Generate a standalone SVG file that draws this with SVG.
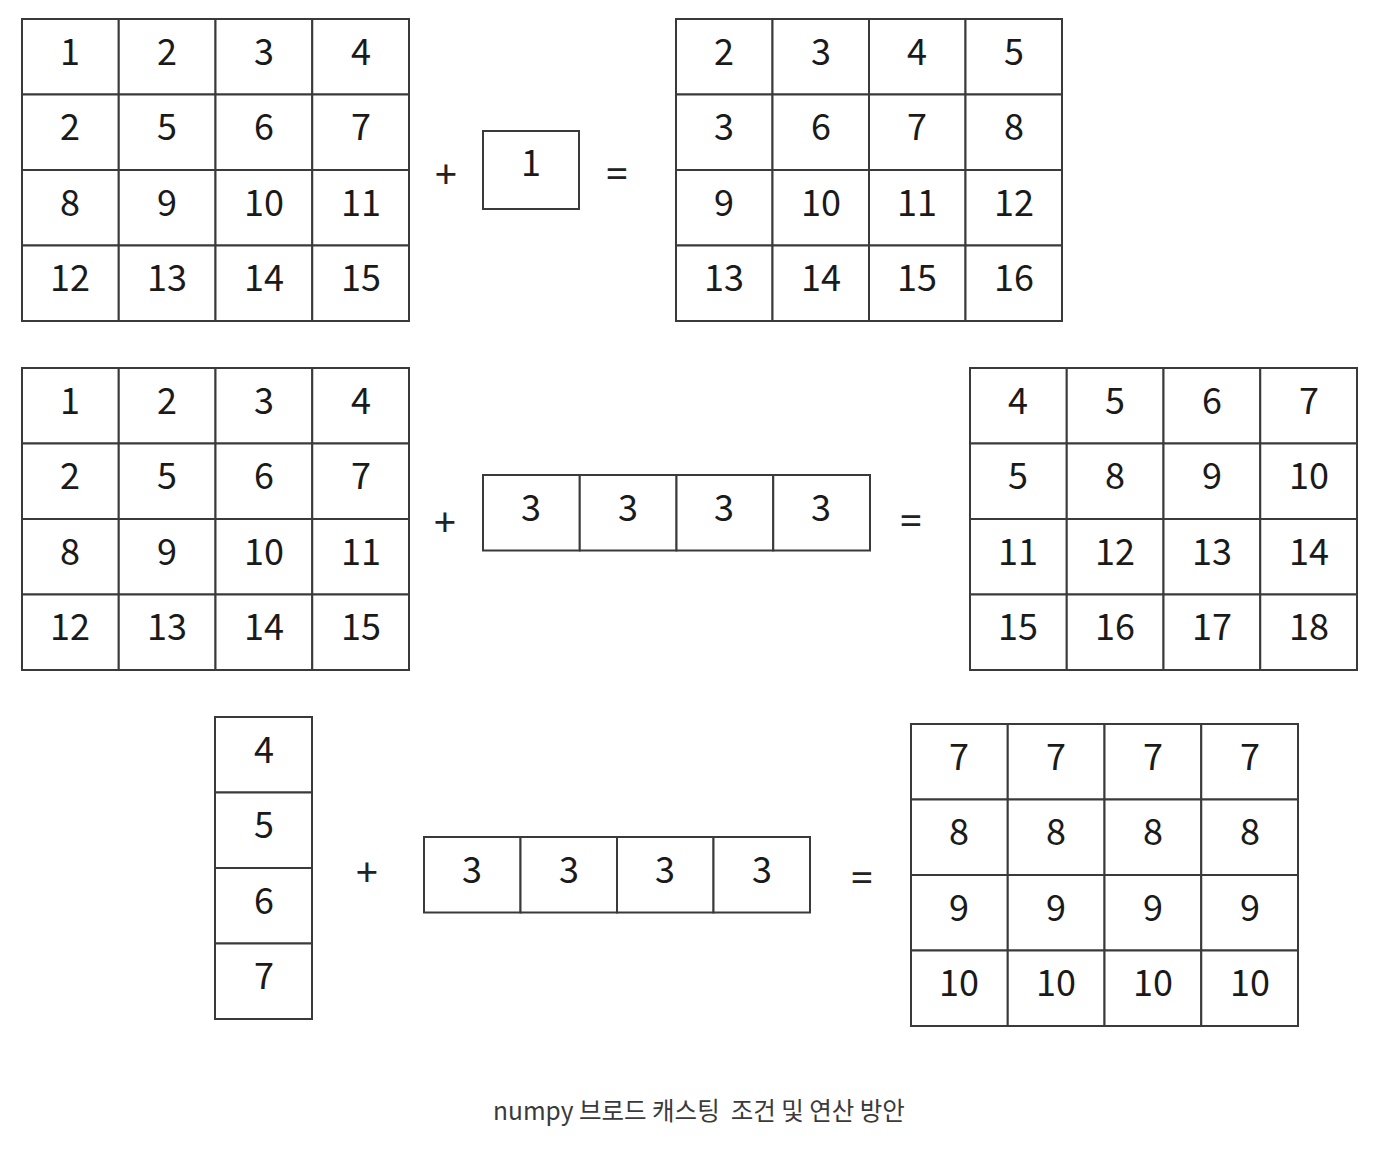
<svg xmlns="http://www.w3.org/2000/svg" width="1396" height="1150" viewBox="0 0 1396 1150">
<style>
.c{fill:#fff;stroke:#3a3a3a;stroke-width:2}
.t{font-family:"Noto Sans CJK KR","Noto Sans",sans-serif;font-size:36px;fill:#1a1a1a;text-anchor:middle}
.op{font-family:"Noto Sans","Noto Sans CJK KR",sans-serif;font-size:40px;fill:#222;text-anchor:middle}
.cap{font-family:"Noto Sans CJK KR",sans-serif;font-size:24.5px;fill:#3a3a3a;text-anchor:middle}
</style>
<rect width="1396" height="1150" fill="#fff"/>

<g id="grid-a">
<rect class="c" x="22" y="19" width="96.75" height="75.5"/><rect class="c" x="118.75" y="19" width="96.75" height="75.5"/><rect class="c" x="215.5" y="19" width="96.75" height="75.5"/><rect class="c" x="312.25" y="19" width="96.75" height="75.5"/>
<rect class="c" x="22" y="94.5" width="96.75" height="75.5"/><rect class="c" x="118.75" y="94.5" width="96.75" height="75.5"/><rect class="c" x="215.5" y="94.5" width="96.75" height="75.5"/><rect class="c" x="312.25" y="94.5" width="96.75" height="75.5"/>
<rect class="c" x="22" y="170" width="96.75" height="75.5"/><rect class="c" x="118.75" y="170" width="96.75" height="75.5"/><rect class="c" x="215.5" y="170" width="96.75" height="75.5"/><rect class="c" x="312.25" y="170" width="96.75" height="75.5"/>
<rect class="c" x="22" y="245.5" width="96.75" height="75.5"/><rect class="c" x="118.75" y="245.5" width="96.75" height="75.5"/><rect class="c" x="215.5" y="245.5" width="96.75" height="75.5"/><rect class="c" x="312.25" y="245.5" width="96.75" height="75.5"/>
<text class="t" x="70" y="65">1</text><text class="t" x="167" y="65">2</text><text class="t" x="264" y="65">3</text><text class="t" x="361" y="65">4</text>
<text class="t" x="70" y="140">2</text><text class="t" x="167" y="140">5</text><text class="t" x="264" y="140">6</text><text class="t" x="361" y="140">7</text>
<text class="t" x="70" y="216">8</text><text class="t" x="167" y="216">9</text><text class="t" x="264" y="216">10</text><text class="t" x="361" y="216">11</text>
<text class="t" x="70" y="291">12</text><text class="t" x="167" y="291">13</text><text class="t" x="264" y="291">14</text><text class="t" x="361" y="291">15</text>
</g>

<g id="op-plus-1"><text class="op" x="446" y="188">+</text></g>
<g id="scalar">
<rect class="c" x="483" y="131" width="96" height="78"/>
<text class="t" x="531" y="176">1</text>
</g>
<g id="op-eq-1"><text class="op" x="617" y="188">=</text></g>

<g id="grid-b">
<rect class="c" x="676" y="19" width="96.5" height="75.5"/><rect class="c" x="772.5" y="19" width="96.5" height="75.5"/><rect class="c" x="869" y="19" width="96.5" height="75.5"/><rect class="c" x="965.5" y="19" width="96.5" height="75.5"/>
<rect class="c" x="676" y="94.5" width="96.5" height="75.5"/><rect class="c" x="772.5" y="94.5" width="96.5" height="75.5"/><rect class="c" x="869" y="94.5" width="96.5" height="75.5"/><rect class="c" x="965.5" y="94.5" width="96.5" height="75.5"/>
<rect class="c" x="676" y="170" width="96.5" height="75.5"/><rect class="c" x="772.5" y="170" width="96.5" height="75.5"/><rect class="c" x="869" y="170" width="96.5" height="75.5"/><rect class="c" x="965.5" y="170" width="96.5" height="75.5"/>
<rect class="c" x="676" y="245.5" width="96.5" height="75.5"/><rect class="c" x="772.5" y="245.5" width="96.5" height="75.5"/><rect class="c" x="869" y="245.5" width="96.5" height="75.5"/><rect class="c" x="965.5" y="245.5" width="96.5" height="75.5"/>
<text class="t" x="724" y="65">2</text><text class="t" x="821" y="65">3</text><text class="t" x="917" y="65">4</text><text class="t" x="1014" y="65">5</text>
<text class="t" x="724" y="140">3</text><text class="t" x="821" y="140">6</text><text class="t" x="917" y="140">7</text><text class="t" x="1014" y="140">8</text>
<text class="t" x="724" y="216">9</text><text class="t" x="821" y="216">10</text><text class="t" x="917" y="216">11</text><text class="t" x="1014" y="216">12</text>
<text class="t" x="724" y="291">13</text><text class="t" x="821" y="291">14</text><text class="t" x="917" y="291">15</text><text class="t" x="1014" y="291">16</text>
</g>

<g id="grid-c">
<rect class="c" x="22" y="368" width="96.75" height="75.5"/><rect class="c" x="118.75" y="368" width="96.75" height="75.5"/><rect class="c" x="215.5" y="368" width="96.75" height="75.5"/><rect class="c" x="312.25" y="368" width="96.75" height="75.5"/>
<rect class="c" x="22" y="443.5" width="96.75" height="75.5"/><rect class="c" x="118.75" y="443.5" width="96.75" height="75.5"/><rect class="c" x="215.5" y="443.5" width="96.75" height="75.5"/><rect class="c" x="312.25" y="443.5" width="96.75" height="75.5"/>
<rect class="c" x="22" y="519" width="96.75" height="75.5"/><rect class="c" x="118.75" y="519" width="96.75" height="75.5"/><rect class="c" x="215.5" y="519" width="96.75" height="75.5"/><rect class="c" x="312.25" y="519" width="96.75" height="75.5"/>
<rect class="c" x="22" y="594.5" width="96.75" height="75.5"/><rect class="c" x="118.75" y="594.5" width="96.75" height="75.5"/><rect class="c" x="215.5" y="594.5" width="96.75" height="75.5"/><rect class="c" x="312.25" y="594.5" width="96.75" height="75.5"/>
<text class="t" x="70" y="414">1</text><text class="t" x="167" y="414">2</text><text class="t" x="264" y="414">3</text><text class="t" x="361" y="414">4</text>
<text class="t" x="70" y="489">2</text><text class="t" x="167" y="489">5</text><text class="t" x="264" y="489">6</text><text class="t" x="361" y="489">7</text>
<text class="t" x="70" y="565">8</text><text class="t" x="167" y="565">9</text><text class="t" x="264" y="565">10</text><text class="t" x="361" y="565">11</text>
<text class="t" x="70" y="640">12</text><text class="t" x="167" y="640">13</text><text class="t" x="264" y="640">14</text><text class="t" x="361" y="640">15</text>
</g>

<g id="op-plus-2"><text class="op" x="445" y="536">+</text></g>
<g id="row-vec-1">
<rect class="c" x="483" y="475" width="96.75" height="75.5"/><rect class="c" x="579.75" y="475" width="96.75" height="75.5"/><rect class="c" x="676.5" y="475" width="96.75" height="75.5"/><rect class="c" x="773.25" y="475" width="96.75" height="75.5"/>
<text class="t" x="531" y="521">3</text><text class="t" x="628" y="521">3</text><text class="t" x="724" y="521">3</text><text class="t" x="821" y="521">3</text>
</g>
<g id="op-eq-2"><text class="op" x="911" y="535">=</text></g>

<g id="grid-d">
<rect class="c" x="970" y="368" width="96.75" height="75.5"/><rect class="c" x="1066.75" y="368" width="96.75" height="75.5"/><rect class="c" x="1163.5" y="368" width="96.75" height="75.5"/><rect class="c" x="1260.25" y="368" width="96.75" height="75.5"/>
<rect class="c" x="970" y="443.5" width="96.75" height="75.5"/><rect class="c" x="1066.75" y="443.5" width="96.75" height="75.5"/><rect class="c" x="1163.5" y="443.5" width="96.75" height="75.5"/><rect class="c" x="1260.25" y="443.5" width="96.75" height="75.5"/>
<rect class="c" x="970" y="519" width="96.75" height="75.5"/><rect class="c" x="1066.75" y="519" width="96.75" height="75.5"/><rect class="c" x="1163.5" y="519" width="96.75" height="75.5"/><rect class="c" x="1260.25" y="519" width="96.75" height="75.5"/>
<rect class="c" x="970" y="594.5" width="96.75" height="75.5"/><rect class="c" x="1066.75" y="594.5" width="96.75" height="75.5"/><rect class="c" x="1163.5" y="594.5" width="96.75" height="75.5"/><rect class="c" x="1260.25" y="594.5" width="96.75" height="75.5"/>
<text class="t" x="1018" y="414">4</text><text class="t" x="1115" y="414">5</text><text class="t" x="1212" y="414">6</text><text class="t" x="1309" y="414">7</text>
<text class="t" x="1018" y="489">5</text><text class="t" x="1115" y="489">8</text><text class="t" x="1212" y="489">9</text><text class="t" x="1309" y="489">10</text>
<text class="t" x="1018" y="565">11</text><text class="t" x="1115" y="565">12</text><text class="t" x="1212" y="565">13</text><text class="t" x="1309" y="565">14</text>
<text class="t" x="1018" y="640">15</text><text class="t" x="1115" y="640">16</text><text class="t" x="1212" y="640">17</text><text class="t" x="1309" y="640">18</text>
</g>

<g id="col-vec">
<rect class="c" x="215" y="717" width="97" height="75.5"/><rect class="c" x="215" y="792.5" width="97" height="75.5"/><rect class="c" x="215" y="868" width="97" height="75.5"/><rect class="c" x="215" y="943.5" width="97" height="75.5"/>
<text class="t" x="264" y="763">4</text><text class="t" x="264" y="838">5</text><text class="t" x="264" y="914">6</text><text class="t" x="264" y="989">7</text>
</g>
<g id="op-plus-3"><text class="op" x="367" y="886">+</text></g>
<g id="row-vec-2">
<rect class="c" x="424" y="837" width="96.5" height="75.5"/><rect class="c" x="520.5" y="837" width="96.5" height="75.5"/><rect class="c" x="617" y="837" width="96.5" height="75.5"/><rect class="c" x="713.5" y="837" width="96.5" height="75.5"/>
<text class="t" x="472" y="883">3</text><text class="t" x="569" y="883">3</text><text class="t" x="665" y="883">3</text><text class="t" x="762" y="883">3</text>
</g>
<g id="op-eq-3"><text class="op" x="862" y="892">=</text></g>

<g id="grid-e">
<rect class="c" x="911" y="724" width="96.75" height="75.5"/><rect class="c" x="1007.75" y="724" width="96.75" height="75.5"/><rect class="c" x="1104.5" y="724" width="96.75" height="75.5"/><rect class="c" x="1201.25" y="724" width="96.75" height="75.5"/>
<rect class="c" x="911" y="799.5" width="96.75" height="75.5"/><rect class="c" x="1007.75" y="799.5" width="96.75" height="75.5"/><rect class="c" x="1104.5" y="799.5" width="96.75" height="75.5"/><rect class="c" x="1201.25" y="799.5" width="96.75" height="75.5"/>
<rect class="c" x="911" y="875" width="96.75" height="75.5"/><rect class="c" x="1007.75" y="875" width="96.75" height="75.5"/><rect class="c" x="1104.5" y="875" width="96.75" height="75.5"/><rect class="c" x="1201.25" y="875" width="96.75" height="75.5"/>
<rect class="c" x="911" y="950.5" width="96.75" height="75.5"/><rect class="c" x="1007.75" y="950.5" width="96.75" height="75.5"/><rect class="c" x="1104.5" y="950.5" width="96.75" height="75.5"/><rect class="c" x="1201.25" y="950.5" width="96.75" height="75.5"/>
<text class="t" x="959" y="770">7</text><text class="t" x="1056" y="770">7</text><text class="t" x="1153" y="770">7</text><text class="t" x="1250" y="770">7</text>
<text class="t" x="959" y="845">8</text><text class="t" x="1056" y="845">8</text><text class="t" x="1153" y="845">8</text><text class="t" x="1250" y="845">8</text>
<text class="t" x="959" y="921">9</text><text class="t" x="1056" y="921">9</text><text class="t" x="1153" y="921">9</text><text class="t" x="1250" y="921">9</text>
<text class="t" x="959" y="996">10</text><text class="t" x="1056" y="996">10</text><text class="t" x="1153" y="996">10</text><text class="t" x="1250" y="996">10</text>
</g>

<g id="caption"><text class="cap" x="699" y="1120" xml:space="preserve">numpy 브로드 캐스팅  조건 및 연산 방안</text></g>
</svg>
